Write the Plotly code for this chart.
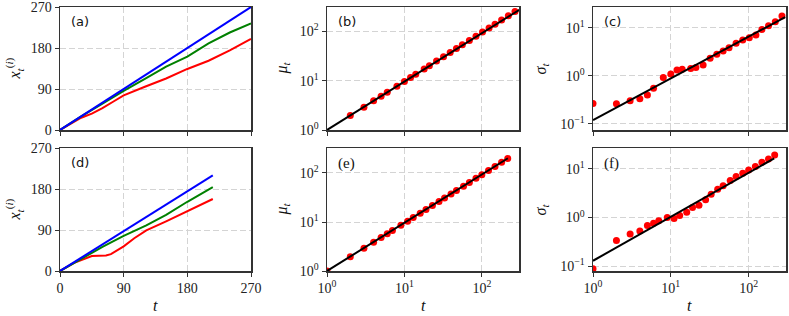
import plotly.graph_objects as go

W, H = 789, 316

# ---------------- data ----------------
# panel (a)
a_t = [0, 30, 60, 90, 120, 150, 180, 210, 240, 270]
a_blue = [0, 30, 60, 90, 120, 150, 180, 210, 240, 270]
a_green = [0, 30, 58, 86, 112, 139, 161, 190, 214, 234]
a_red_t = [0, 20, 30, 45, 60, 75, 90, 120, 150, 180, 210, 240, 270]
a_red = [0, 19, 27, 36, 48, 62, 76, 95, 113, 134, 152, 175, 200]

# panel (d)
d_blue_t = [0, 90, 216]
d_blue = [0, 87, 210]
d_green_t = [0, 30, 60, 90, 122, 150, 180, 216]
d_green = [0, 27, 53, 77, 100, 123, 152, 184]
d_red_t = [0, 20, 45, 55, 65, 72, 80, 90, 105, 122, 150, 180, 216]
d_red = [0, 18, 33, 33, 34, 37, 44, 54, 72, 89, 109, 132, 158]

# panel (b): mean vs t
b_t = [2, 3, 4, 5, 6, 8, 10, 12, 14, 18, 21, 26, 32, 39, 47, 56, 69, 84, 102, 124, 148, 180, 220, 268]
b_mu = [1.97, 2.9, 3.9, 4.85, 5.8, 7.7, 9.6, 11.6, 13.5, 17.2, 20, 24.8, 30.4, 37, 44.5, 53, 65, 79, 96, 116, 138, 168, 205, 250]
# panel (c): std vs t
c_t = [1, 2, 3, 4, 5, 6, 8, 10, 12, 14, 18, 21, 26, 32, 39, 47, 56, 69, 84, 102, 124, 148, 180, 220, 268]
c_sigma = [0.265, 0.26, 0.30, 0.33, 0.395, 0.545, 0.92, 1.08, 1.31, 1.36, 1.42, 1.49, 1.67, 2.30, 2.78, 3.27, 3.83, 4.72, 5.53, 6.2, 7.0, 9.2, 11.0, 13.3, 17.5]

# panels (e),(f): sample times
bot_t = [1, 2, 3, 4, 5, 6, 7, 9, 11, 13, 16, 19, 23, 28, 33, 40, 47, 58, 69, 84, 100, 122, 148, 180, 216]
e_mu = [1, 1.95, 2.9, 3.85, 4.8, 5.75, 6.7, 8.6, 10.4, 12.3, 15.1, 17.9, 21.6, 26.2, 30.9, 37.3, 43.8, 53.9, 64, 77.8, 92.5, 112.6, 136.4, 165.5, 198]
f_sigma = [0.088, 0.336, 0.46, 0.53, 0.685, 0.765, 0.855, 1.0, 0.95, 1.1, 1.29, 1.6, 1.79, 2.31, 3.0, 3.8, 4.5, 5.76, 6.95, 8.15, 9.5, 11.2, 13.7, 16.0, 19.4]

# fitted power-law lines (endpoints)
b_fit_t = [1, 306]
b_fit = [1, 272]
c_fit_t = [1, 295]
c_fit = [0.119, 16.6]
e_fit_t = [1, 217]
e_fit = [1, 200]
f_fit_t = [1, 213]
f_fit = [0.129, 16.5]

lin_ticks = [0, 90, 180, 270]
lin_labels = ["0", "90", "180", "270"]
log_ticks_x = [1, 10, 100]
log_labels_x = ["10<sup>0</sup>", "10<sup>1</sup>", "10<sup>2</sup>"]
sig_ticks = [0.1, 1, 10]
sig_labels = ["10<sup>\u22121</sup>", "10<sup>0</sup>", "10<sup>1</sup>"]
panel_labels = ["(a)", "(b)", "(c)", "(d)", "(e)", "(f)"]

# ---------------- figure ----------------
BLUE, GREEN, RED = "#0000ff", "#008000", "#ff0000"
SERIF = "Liberation Serif"
SANS = "DejaVu Sans"

fig = go.Figure()

cols = [(60, 251), (327, 519), (593, 786)]
rows = [(7, 130), (148, 271)]


def ax_name(i, kind):
    return kind + ("" if i == 1 else str(i))


def line(x, y, color, i):
    fig.add_trace(go.Scatter(x=x, y=y, mode="lines", line=dict(color=color, width=2),
                             xaxis=ax_name(i, "x"), yaxis=ax_name(i, "y"), showlegend=False,
                             hoverinfo="skip"))


def dots(x, y, i):
    fig.add_trace(go.Scatter(x=x, y=y, mode="markers", marker=dict(color=RED, size=7),
                             xaxis=ax_name(i, "x"), yaxis=ax_name(i, "y"), showlegend=False,
                             hoverinfo="skip"))


# (a)
line(a_red_t, a_red, RED, 1)
line(a_t, a_green, GREEN, 1)
line(a_t, a_blue, BLUE, 1)
# (b)
dots(b_t, b_mu, 2)
line(b_fit_t, b_fit, "black", 2)
# (c)
dots(c_t, c_sigma, 3)
line(c_fit_t, c_fit, "black", 3)
# (d)
line(d_red_t, d_red, RED, 4)
line(d_green_t, d_green, GREEN, 4)
line(d_blue_t, d_blue, BLUE, 4)
# (e)
dots(bot_t, e_mu, 5)
line(e_fit_t, e_fit, "black", 5)
# (f)
dots(bot_t, f_sigma, 6)
line(f_fit_t, f_fit, "black", 6)

common = dict(showline=True, mirror=True, linecolor="#333333", linewidth=1.5,
              ticks="outside", ticklen=4, tickwidth=1, tickcolor="#333333",
              showgrid=True, gridcolor="#d4d4d4", griddash="6px,3px", gridwidth=1,
              zeroline=False, automargin=False, ticklabeloverflow="allow",
              tickfont=dict(family=SERIF, size=14, color="#222222"))

yranges = {1: None, 2: [0, 2.49], 3: [-1.13, 1.43], 4: None, 5: [0, 2.51], 6: [-1.1, 1.43]}

layout = {}
for i in range(1, 7):
    r = 0 if i <= 3 else 1
    c = (i - 1) % 3
    l, rr = cols[c]
    t, b = rows[r]
    xd = [l / W, rr / W]
    yd = [1 - b / H, 1 - t / H]
    xa = dict(common, domain=xd, anchor=ax_name(i, "y"), showticklabels=(r == 1))
    ya = dict(common, domain=yd, anchor=ax_name(i, "x"))
    if c == 0:
        xa.update(range=[0, 270], tickvals=lin_ticks, ticktext=lin_labels)
        ya.update(range=[0, 270], tickvals=lin_ticks, ticktext=lin_labels)
    else:
        xa.update(type="log", range=[0, 2.48], tickvals=log_ticks_x, ticktext=log_labels_x)
        if c == 1:
            ya.update(type="log", range=yranges[i], tickvals=log_ticks_x, ticktext=log_labels_x)
        else:
            ya.update(type="log", range=yranges[i], tickvals=sig_ticks, ticktext=sig_labels)
    layout["xaxis" + ("" if i == 1 else str(i))] = xa
    layout["yaxis" + ("" if i == 1 else str(i))] = ya

fig.update_layout(**layout)

ann = []
# panel letters
for i in range(1, 7):
    r = 0 if i <= 3 else 1
    c = (i - 1) % 3
    l, _ = cols[c]
    t, _ = rows[r]
    fam = SERIF if i in (5, 6) else SANS
    size = 15 if i in (5, 6) else 13
    ann.append(dict(text=panel_labels[i - 1], x=(l + 9) / W, y=1 - (t + 5) / H,
                    xref="paper", yref="paper", xanchor="left", yanchor="top",
                    showarrow=False, font=dict(family=fam, size=size, color="#111111")))

ytitles = ["<i>x</i><sub><i>t</i></sub><sup>(<i>i</i>)</sup>", "<i>\u03bc</i><sub><i>t</i></sub>",
           "<i>\u03c3</i><sub><i>t</i></sub>"]
ytitle_x = [14, 282, 541]
for r in range(2):
    t, b = rows[r]
    for c in range(3):
        ann.append(dict(text=ytitles[c], x=ytitle_x[c] / W, y=1 - ((t + b) / 2) / H,
                        xref="paper", yref="paper", xanchor="center", yanchor="middle",
                        textangle=-90, showarrow=False,
                        font=dict(family=SERIF, size=16, color="#111111")))
for c in range(3):
    l, rr = cols[c]
    ann.append(dict(text="<i>t</i>", x=((l + rr) / 2) / W, y=1 - 305 / H,
                    xref="paper", yref="paper", xanchor="center", yanchor="middle",
                    showarrow=False, font=dict(family=SERIF, size=16, color="#111111")))

fig.update_layout(width=W, height=H, margin=dict(l=0, r=0, t=0, b=0),
                  paper_bgcolor="white", plot_bgcolor="white", annotations=ann,
                  showlegend=False, hovermode=False)

fig.write_html("out.html", config={"displayModeBar": False, "staticPlot": True},
               post_script="document.body.style.margin='0';document.body.style.overflow='hidden';")
